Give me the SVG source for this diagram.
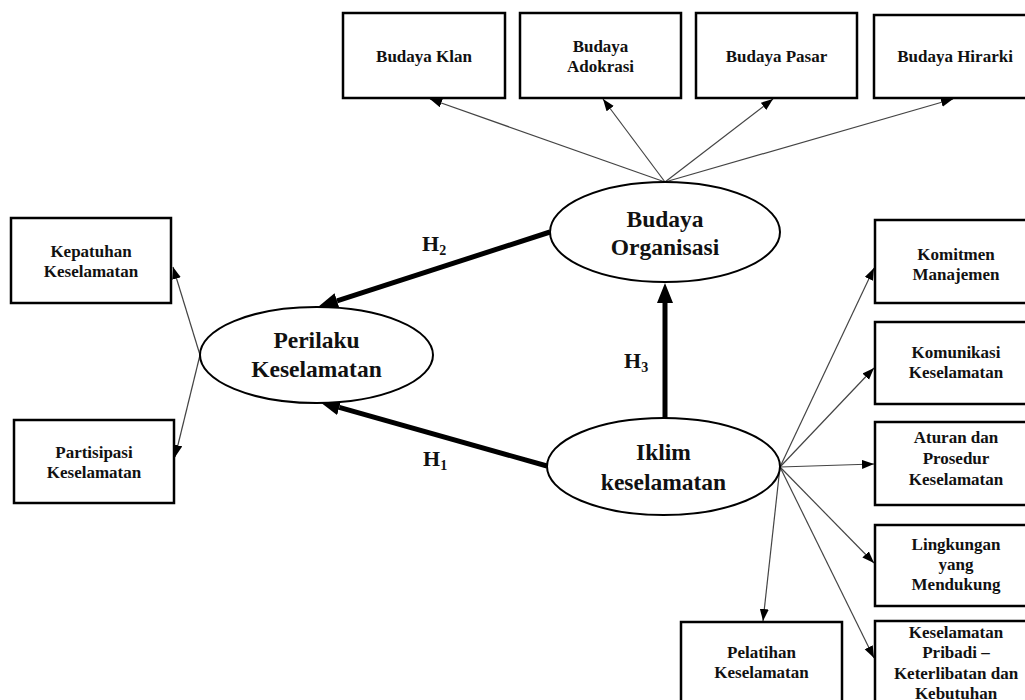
<svg xmlns="http://www.w3.org/2000/svg" width="1025" height="700" viewBox="0 0 1025 700">
<style>
.box{fill:#fff;stroke:#000;stroke-width:2.5}
.ell{fill:#fff;stroke:#000;stroke-width:2}
.bt{font-family:"Liberation Serif","Times New Roman",serif;font-weight:bold;font-size:17px;fill:#111;text-anchor:middle}
.et{font-family:"Liberation Serif","Times New Roman",serif;font-weight:bold;font-size:23.5px;fill:#111;text-anchor:middle}
.ht{font-family:"Liberation Serif","Times New Roman",serif;font-weight:bold;font-size:22px;fill:#111}
.thin{stroke:#444;stroke-width:1.2;fill:none;marker-end:url(#ah)}
.thick{stroke:#000;stroke-width:5;fill:none;marker-end:url(#AH)}
</style>
<defs>
<marker id="ah" markerUnits="userSpaceOnUse" markerWidth="12" markerHeight="10" refX="12" refY="4.5" orient="auto">
<path d="M0,0 L12,4.5 L0,9 z" fill="#000"/>
</marker>
<marker id="AH" markerUnits="userSpaceOnUse" markerWidth="21" markerHeight="17" refX="0" refY="8" orient="auto">
<path d="M0,0 L20,8 L0,16 z" fill="#000"/>
</marker>
</defs>
<rect width="1025" height="700" fill="#fff"/>

<g id="connectors">
<line class="thin" x1="665" y1="182" x2="430" y2="99"/>
<line class="thin" x1="665" y1="182" x2="603" y2="99"/>
<line class="thin" x1="665" y1="182" x2="773" y2="99"/>
<line class="thin" x1="665" y1="182" x2="953" y2="99"/>
<line class="thin" x1="200" y1="355" x2="173" y2="267"/>
<line class="thin" x1="200" y1="355" x2="175" y2="457"/>
<line class="thin" x1="780" y1="467" x2="874" y2="268"/>
<line class="thin" x1="780" y1="467" x2="874" y2="368"/>
<line class="thin" x1="780" y1="467" x2="874" y2="464"/>
<line class="thin" x1="780" y1="467" x2="874" y2="563"/>
<line class="thin" x1="780" y1="467" x2="874" y2="658"/>
<line class="thin" x1="780" y1="467" x2="763" y2="621"/>
<line class="thick" x1="550" y1="232" x2="337" y2="300.8"/>
<line class="thick" x1="547" y1="466" x2="339.3" y2="407.4"/>
<line class="thick" x1="665" y1="418" x2="665" y2="303"/>
</g>

<g id="labels">
<text class="ht" x="422" y="251">H<tspan font-size="14" dy="4">2</tspan></text>
<text class="ht" x="624" y="368">H<tspan font-size="14" dy="4">3</tspan></text>
<text class="ht" x="423" y="466">H<tspan font-size="14" dy="4">1</tspan></text>
</g>

<g id="budaya-klan"><rect class="box" x="343" y="13" width="162" height="85"/><text class="bt" x="424" y="62">Budaya Klan</text></g>
<g id="budaya-adokrasi"><rect class="box" x="520" y="13" width="161" height="85"/><text class="bt" x="600.5" y="52">Budaya</text><text class="bt" x="600.5" y="72">Adokrasi</text></g>
<g id="budaya-pasar"><rect class="box" x="696" y="13" width="161" height="85"/><text class="bt" x="776.5" y="62">Budaya Pasar</text></g>
<g id="budaya-hirarki"><rect class="box" x="874" y="15" width="162" height="83"/><text class="bt" x="955" y="62">Budaya Hirarki</text></g>

<g id="kepatuhan"><rect class="box" x="11" y="218" width="160" height="85"/><text class="bt" x="91" y="257">Kepatuhan</text><text class="bt" x="91" y="277">Keselamatan</text></g>
<g id="partisipasi"><rect class="box" x="14" y="420" width="160" height="83"/><text class="bt" x="94" y="458">Partisipasi</text><text class="bt" x="94" y="478">Keselamatan</text></g>

<g id="komitmen"><rect class="box" x="875" y="220" width="162" height="83"/><text class="bt" x="956" y="260">Komitmen</text><text class="bt" x="956" y="280">Manajemen</text></g>
<g id="komunikasi"><rect class="box" x="875" y="322" width="162" height="82"/><text class="bt" x="956" y="358">Komunikasi</text><text class="bt" x="956" y="378">Keselamatan</text></g>
<g id="aturan"><rect class="box" x="875" y="422" width="162" height="83"/><text class="bt" x="956" y="443">Aturan dan</text><text class="bt" x="956" y="464">Prosedur</text><text class="bt" x="956" y="485">Keselamatan</text></g>
<g id="lingkungan"><rect class="box" x="875" y="525" width="162" height="81"/><text class="bt" x="956" y="550">Lingkungan</text><text class="bt" x="956" y="570">yang</text><text class="bt" x="956" y="590">Mendukung</text></g>
<g id="pribadi"><rect class="box" x="875" y="621" width="162" height="100"/><text class="bt" x="956" y="638">Keselamatan</text><text class="bt" x="956" y="658">Pribadi –</text><text class="bt" x="956" y="679">Keterlibatan dan</text><text class="bt" x="956" y="699">Kebutuhan</text></g>
<g id="pelatihan"><rect class="box" x="681" y="622" width="161" height="100"/><text class="bt" x="761.5" y="658">Pelatihan</text><text class="bt" x="761.5" y="678">Keselamatan</text></g>

<g id="budaya-organisasi"><ellipse class="ell" cx="665" cy="232" rx="115" ry="50"/><text class="et" x="665" y="227">Budaya</text><text class="et" x="665" y="255">Organisasi</text></g>
<g id="perilaku"><ellipse class="ell" cx="316.5" cy="355" rx="116.5" ry="48"/><text class="et" x="316.5" y="348">Perilaku</text><text class="et" x="316.5" y="377">Keselamatan</text></g>
<g id="iklim"><ellipse class="ell" cx="663.5" cy="466.5" rx="116.5" ry="48.5"/><text class="et" x="663.5" y="460">Iklim</text><text class="et" x="663.5" y="490">keselamatan</text></g>
</svg>
